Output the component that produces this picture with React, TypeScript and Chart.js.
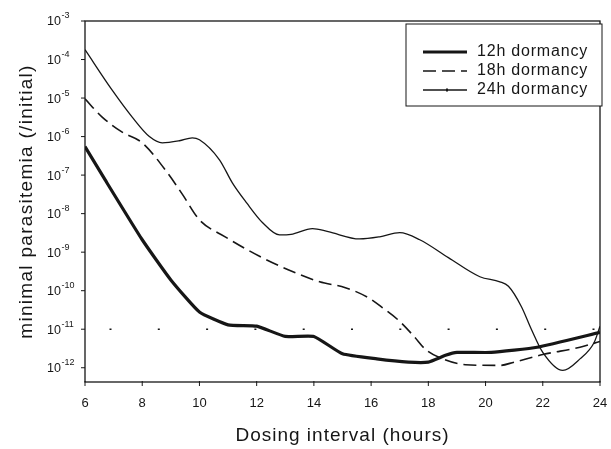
import React, { useEffect, useRef } from "react";
import { Chart, registerables } from "chart.js";

Chart.register(...registerables);

// Dosing interval (hours) sample points and minimal parasitemia (/initial)
const hours12 = [6, 6.7, 8, 9, 10, 11, 12, 13, 14, 15, 16.2, 17.3, 18, 18.6, 19, 20.2, 21.8, 24];
const parasitemia12 = [5.5e-7, 7.6e-8, 2.1e-9, 1.9e-10, 2.8e-11, 1.3e-11, 1.2e-11, 6.5e-12, 6.5e-12, 2.3e-12, 1.7e-12, 1.4e-12, 1.4e-12, 2.1e-12, 2.5e-12, 2.5e-12, 3.4e-12, 8.3e-12];

const hours18 = [6, 6.6, 7.3, 8, 8.9, 9.4, 10, 10.9, 12.1, 13.1, 14.2, 15.1, 15.9, 16.4, 17, 17.5, 17.9, 18.5, 19.3, 20.5, 21, 22, 23.3, 24];
const parasitemia18 = [9.5e-6, 3.2e-6, 1.3e-6, 6.9e-7, 1.1e-7, 3.2e-8, 6.9e-9, 2.5e-9, 7.8e-10, 3.5e-10, 1.7e-10, 1.2e-10, 6.6e-11, 3.6e-11, 1.6e-11, 6.5e-12, 3.0e-12, 1.7e-12, 1.2e-12, 1.15e-12, 1.4e-12, 2.2e-12, 3.4e-12, 4.8e-12];

const hours24 = [6, 6.95, 7.65, 8.25, 8.7, 9.3, 9.75, 10, 10.7, 11.15, 11.65, 12.2, 12.8, 13.2, 13.95, 14.5, 15.6, 16.3, 17, 17.7, 18.7, 19.8, 20.5, 20.8, 21.25, 21.6, 22, 22.7, 23.3, 23.8, 24];
const parasitemia24 = [1.8e-4, 1.6e-5, 3.2e-6, 1.0e-6, 6.9e-7, 7.8e-7, 9.3e-7, 8.3e-7, 2.5e-7, 6.3e-8, 1.9e-8, 5.9e-9, 2.8e-9, 2.9e-9, 4.1e-9, 3.4e-9, 2.2e-9, 2.5e-9, 3.2e-9, 2.1e-9, 7.2e-10, 2.3e-10, 1.7e-10, 1.3e-10, 3.9e-11, 1.0e-11, 2.5e-12, 8.5e-13, 1.7e-12, 4.6e-12, 1.2e-11];

const thresholdHours = [6, 24];
const thresholdValue = 1e-11;

const seriesLabels = ["12h dormancy", "18h dormancy", "24h dormancy"];
const xTickValues = [6, 8, 10, 12, 14, 16, 18, 20, 22, 24];
const yTickExponents = [-3, -4, -5, -6, -7, -8, -9, -10, -11, -12];

const xTitle = "Dosing interval (hours)";
const yTitle = "minimal parasitemia (/initial)";

const INK = "#161616";

const toPoints = (xs: number[], ys: number[]) => xs.map((x, i) => ({ x, y: ys[i] }));

const framePlugin = {
  id: "frameAndLabels",
  afterDraw(chart: any) {
    const { ctx, chartArea, scales } = chart;
    const { left, right, top, bottom } = chartArea;
    const xs = scales.x;
    const ys = scales.y;
    ctx.save();
    ctx.strokeStyle = INK;
    ctx.fillStyle = INK;
    ctx.lineWidth = 1.3;
    ctx.strokeRect(left, top, right - left, bottom - top);

    // y ticks + labels
    ctx.lineWidth = 1;
    ys.ticks.forEach((t: any) => {
      const py = ys.getPixelForValue(t.value);
      ctx.beginPath();
      ctx.moveTo(left - 4, py);
      ctx.lineTo(left, py);
      ctx.stroke();
      const exp = Math.round(Math.log10(t.value));
      ctx.font = "12.5px 'Liberation Sans', Arial, sans-serif";
      ctx.textAlign = "left";
      ctx.textBaseline = "middle";
      ctx.fillText("10", 47, py + 1);
      const w = ctx.measureText("10").width;
      ctx.font = "9px 'Liberation Sans', Arial, sans-serif";
      ctx.fillText(String(exp), 47 + w + 0.5, py - 5);
    });

    // x ticks + labels
    xs.ticks.forEach((t: any) => {
      const px = xs.getPixelForValue(t.value);
      ctx.beginPath();
      ctx.moveTo(px, bottom - 1);
      ctx.lineTo(px, bottom + 4);
      ctx.stroke();
      ctx.font = "13px 'Liberation Sans', Arial, sans-serif";
      ctx.textAlign = "center";
      ctx.textBaseline = "middle";
      ctx.fillText(String(t.value), px, bottom + 21);
    });

    // axis titles
    ctx.font = "19px 'Liberation Sans', Arial, sans-serif";
    (ctx as any).letterSpacing = "1px";
    ctx.textAlign = "center";
    ctx.textBaseline = "middle";
    ctx.fillText(xTitle, (left + right) / 2, bottom + 54);
    ctx.save();
    ctx.translate(27, (top + bottom) / 2);
    ctx.rotate(-Math.PI / 2);
    (ctx as any).letterSpacing = "1.3px";
    ctx.fillText(yTitle, 0, 0);
    ctx.restore();
    (ctx as any).letterSpacing = "0px";

    // legend box
    const bx = right - 194;
    const by = top + 3;
    const bw = 196;
    const bh = 82;
    ctx.fillStyle = "#ffffff";
    ctx.fillRect(bx, by, bw, bh);
    ctx.strokeStyle = INK;
    ctx.lineWidth = 1;
    ctx.strokeRect(bx, by, bw, bh);
    const rowsY = [by + 28, by + 47, by + 66];
    const ds = chart.data.datasets;
    for (let i = 0; i < 3; i++) {
      const d = ds[i];
      ctx.strokeStyle = INK;
      ctx.lineWidth = d.borderWidth;
      ctx.setLineDash(d.borderDash || []);
      ctx.beginPath();
      ctx.moveTo(bx + 17, rowsY[i]);
      ctx.lineTo(bx + 61, rowsY[i]);
      ctx.stroke();
      ctx.setLineDash([]);
      if (i === 2) {
        ctx.fillStyle = INK;
        ctx.fillRect(bx + 40, rowsY[i] - 1.5, 2, 3);
      }
      ctx.fillStyle = INK;
      ctx.font = "16px 'Liberation Sans', Arial, sans-serif";
      (ctx as any).letterSpacing = "0.8px";
      ctx.textAlign = "left";
      ctx.textBaseline = "middle";
      ctx.fillText(d.label, bx + 71, rowsY[i]);
      (ctx as any).letterSpacing = "0px";
    }
    ctx.restore();
  },
};

export default function App() {
  const canvasRef = useRef<HTMLCanvasElement | null>(null);

  useEffect(() => {
    document.body.style.margin = "0";
    const canvas = canvasRef.current;
    if (!canvas) return;
    const chart = new Chart(canvas, {
      type: "line",
      data: {
        datasets: [
          {
            label: seriesLabels[0],
            data: toPoints(hours12, parasitemia12),
            borderColor: INK,
            borderWidth: 3.2,
            pointRadius: 0,
            tension: 0.15,
            fill: false,
          },
          {
            label: seriesLabels[1],
            data: toPoints(hours18, parasitemia18),
            borderColor: INK,
            borderWidth: 1.6,
            borderDash: [13, 6],
            pointRadius: 0,
            cubicInterpolationMode: "monotone",
            fill: false,
          },
          {
            label: seriesLabels[2],
            data: toPoints(hours24, parasitemia24),
            borderColor: INK,
            borderWidth: 1.3,
            pointRadius: 0,
            cubicInterpolationMode: "monotone",
            fill: false,
          },
          {
            label: "threshold",
            data: toPoints(thresholdHours, thresholdHours.map(() => thresholdValue)),
            borderColor: INK,
            borderWidth: 1.5,
            borderDash: [2, 46.3],
            borderDashOffset: 23.8,
            pointRadius: 0,
            fill: false,
          },
        ],
      } as any,
      options: {
        animation: false,
        responsive: false,
        maintainAspectRatio: false,
        layout: { padding: { left: 0, top: 21, right: 11, bottom: 0 } },
        plugins: { legend: { display: false }, tooltip: { enabled: false } },
        scales: {
          x: {
            type: "linear",
            min: 6,
            max: 24,
            grid: { display: false },
            border: { display: false },
            ticks: { display: false },
            afterBuildTicks: (s: any) => {
              s.ticks = xTickValues.map((v) => ({ value: v }));
            },
            afterFit: (s: any) => {
              s.height = 67;
            },
          },
          y: {
            type: "logarithmic",
            min: Math.pow(10, -12.37),
            max: 1e-3,
            grid: { display: false },
            border: { display: false },
            ticks: { display: false },
            afterBuildTicks: (s: any) => {
              s.ticks = yTickExponents.map((e) => ({ value: Math.pow(10, e) }));
            },
            afterFit: (s: any) => {
              s.width = 85;
            },
          },
        },
      } as any,
      plugins: [framePlugin],
    });
    return () => chart.destroy();
  }, []);

  return (
    <div style={{ width: 611, height: 449, background: "#fff" }}>
      <canvas ref={canvasRef} width={611} height={449} style={{ display: "block" }} />
    </div>
  );
}
